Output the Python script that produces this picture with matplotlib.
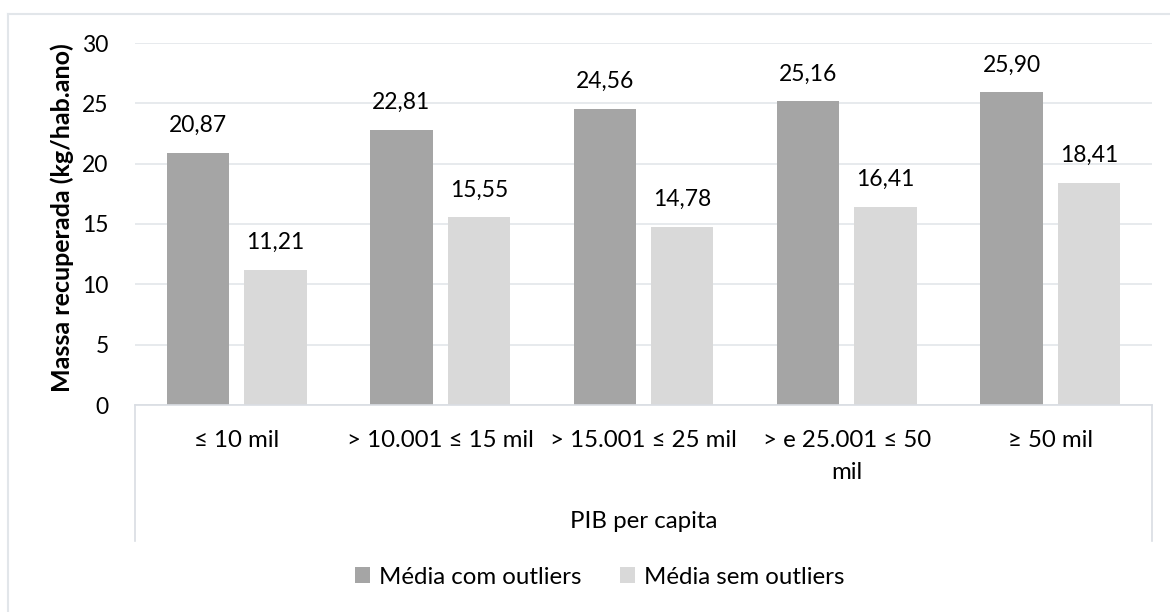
import numpy as np
import matplotlib.pyplot as plt
from matplotlib.lines import Line2D

plt.rcParams['font.family'] = ['Lato', 'DejaVu Sans']

categories = ['≤ 10 mil', '> 10.001 ≤ 15 mil', '> 15.001 ≤ 25 mil', '> e 25.001 ≤ 50\nmil', '≥ 50 mil']
com_outliers = [20.87, 22.81, 24.56, 25.16, 25.90]
sem_outliers = [11.21, 15.55, 14.78, 16.41, 18.41]
yticks = [0, 5, 10, 15, 20, 25, 30]

W, H = 1170, 612
fs = 16.5
fs_txt = 17.3
fig = plt.figure(figsize=(W / 100, H / 100), dpi=100)
ax = fig.add_axes([135 / W, 1 - 405 / H, (1152 - 135) / W, (405 - 43) / H])

x = np.arange(len(categories))
bw = 0.307
b1 = ax.bar(x - 0.19, com_outliers, bw, color='#A5A5A5', label='Média com outliers', zorder=2)
b2 = ax.bar(x + 0.19, sem_outliers, bw, color='#D9D9D9', label='Média sem outliers', zorder=2)

for bars, vals in [(b1, com_outliers), (b2, sem_outliers)]:
    for r, v in zip(bars, vals):
        ax.annotate(f'{v:.2f}'.replace('.', ','), (r.get_x() + r.get_width() / 2, v),
                    xytext=(0, 15), textcoords='offset points', ha='center', va='baseline',
                    fontsize=fs, color='#000000')

ax.set_xlim(-0.5, len(categories) - 0.5)
ax.set_ylim(0, 30)
ax.set_yticks(yticks)
ax.tick_params(axis='y', length=0, pad=19, labelsize=fs)
ax.set_xticks([])
ax.yaxis.grid(True, color='#E3E6EA', linewidth=1.2, zorder=0)
ax.set_axisbelow(True)
for s in ['top', 'right', 'left']:
    ax.spines[s].set_visible(False)
ax.spines['bottom'].set_color('#D9DDE3')
ax.spines['bottom'].set_linewidth(1.2)
ax.spines['bottom'].set_zorder(3)

fig.text(62 / W, 1 - 218 / H, 'Massa recuperada (kg/hab.ano)', rotation=90,
         ha='center', va='center', fontsize=18, fontweight='bold')

# category labels
for i, c in enumerate(categories):
    ax.text(i, -0.07, c, transform=ax.get_xaxis_transform(), ha='center', va='top',
            fontsize=fs_txt, linespacing=1.6, multialignment='center')
ax.text(0.5, -(522 - 405) / 362, 'PIB per capita', transform=ax.transAxes,
        ha='center', va='center', fontsize=fs_txt)

# multi-level axis frame
for xx in [0, 1]:
    ax.add_line(Line2D([xx, xx], [0, -(541 - 405) / 362], transform=ax.transAxes,
                       color='#D9DDE3', linewidth=1.2, clip_on=False))

# outer chart border (top and left)
fig.add_artist(Line2D([8 / W, 1], [1 - 14 / H, 1 - 14 / H], transform=fig.transFigure,
                      color='#E2E6EA', linewidth=1.5))
fig.add_artist(Line2D([8 / W, 8 / W], [0, 1 - 14 / H], transform=fig.transFigure,
                      color='#E2E6EA', linewidth=1.5))

fig.legend(loc='center', bbox_to_anchor=(600 / W, 1 - 577 / H), ncol=2, frameon=False,
           fontsize=fs_txt, handlelength=0.6, handleheight=0.6, handletextpad=0.4,
           columnspacing=1.6)

fig.savefig('out.png', dpi=100)
